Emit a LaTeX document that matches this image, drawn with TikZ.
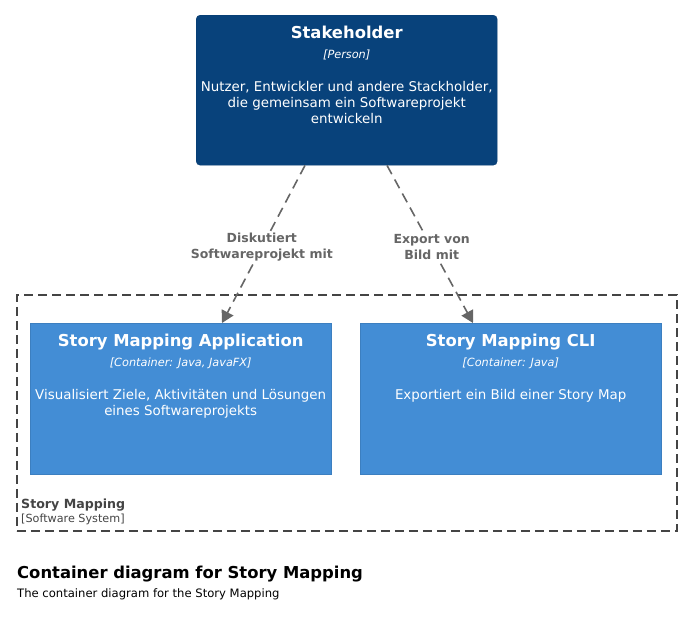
\documentclass[tikz,border=0pt]{standalone}
\usepackage{fontspec}
\setmainfont{DejaVu Sans}
\usetikzlibrary{positioning,arrows.meta}
\definecolor{personblue}{HTML}{08427B}
\definecolor{personline}{HTML}{073B6F}
\definecolor{containerblue}{HTML}{438DD5}
\definecolor{containerline}{HTML}{3C7FC0}
\definecolor{relgray}{HTML}{666666}
\definecolor{boundgray}{HTML}{444444}
\tikzset{
    personbox/.style={draw=personline, fill=personblue, rounded corners=4pt, minimum width=301pt, minimum height=150pt, anchor=north west, inner sep=0pt},
    containerbox/.style={draw=containerline, fill=containerblue, minimum width=301pt, minimum height=151pt, anchor=north west, inner sep=0pt},
    boxtitle/.style={text=white, font=\bfseries\fontsize{16.4}{19}\selectfont},
    boxtech/.style={text=white, font=\itshape\fontsize{11.3}{13}\selectfont},
    boxdesc/.style={text=white, font=\fontsize{13.4}{16}\selectfont, align=center, anchor=north, inner sep=0pt},
    boundary/.style={draw=boundgray, line width=1.6pt, dash pattern=on 9pt off 5pt},
    rel/.style={draw=relgray, line width=1.6pt, dash pattern=on 10pt off 6pt, -{Triangle[length=12pt,width=13pt]}},
    rellabel/.style={fill=white, text=relgray, font=\bfseries\fontsize{12.5}{16}\selectfont, align=center, inner sep=1pt},
}
\begin{document}
\begin{tikzpicture}[x=1pt, y=-1pt]
    \useasboundingbox (0,0) rectangle (690,629);

    % System boundary
    \node[boundary, minimum width=660pt, minimum height=236pt, anchor=north west, inner sep=0pt] (sys) at (16,294) {};
    \node[anchor=base west, inner sep=0pt, text=boundgray, font=\bfseries\fontsize{12.6}{14}\selectfont] (syslabel) at (21,508) {Story Mapping};
    \node[anchor=base west, inner sep=0pt, text=boundgray, font=\fontsize{11.2}{12}\selectfont] (systype) at (21,522) {[Software System]};

    % Person
    \node[personbox] (stake) at (196,15) {};
    \node[boxtitle] (staketitle) at ([yshift=-17pt]stake.north) {Stakeholder};
    \node[boxtech] (staketech) at ([yshift=-40pt]stake.north) {[Person]};
    \node[boxdesc] (stakedesc) at ([yshift=-66pt]stake.north) {Nutzer, Entwickler und andere Stackholder,\\die gemeinsam ein Softwareprojekt\\entwickeln};

    % Containers
    \node[containerbox] (app) at (30,323) {};
    \node[boxtitle] (apptitle) at ([yshift=-19pt]app.north) {Story Mapping Application};
    \node[boxtech] (apptech) at ([yshift=-40pt]app.north) {[Container: Java, JavaFX]};
    \node[boxdesc] (appdesc) at ([yshift=-66pt]app.north) {Visualisiert Ziele, Aktivitäten und Lösungen\\eines Softwareprojekts};

    \node[containerbox] (cli) at (360,323) {};
    \node[boxtitle] (clititle) at ([yshift=-19pt]cli.north) {Story Mapping CLI};
    \node[boxtech] (clitech) at ([yshift=-40pt]cli.north) {[Container: Java]};
    \node[boxdesc] (clidesc) at ([yshift=-66pt]cli.north) {Exportiert ein Bild einer Story Map};

    % Relations
    \draw[rel] ([xshift=109pt]stake.south west) -- node[rellabel, pos=0.52] (rel1) {Diskutiert\\Softwareprojekt mit} ([xshift=192pt]app.north west);
    \draw[rel] ([xshift=191pt]stake.south west) -- node[rellabel, pos=0.52] (rel2) {Export von\\Bild mit} ([xshift=113pt]cli.north west);

    % Title
    \node[anchor=base west, inner sep=0pt, font=\bfseries\fontsize{16.4}{19}\selectfont] (title) at (17,578) {Container diagram for Story Mapping};
    \node[anchor=base west, inner sep=0pt, font=\fontsize{11.6}{12}\selectfont] (subtitle) at (17,597) {The container diagram for the Story Mapping};
\end{tikzpicture}
\end{document}
